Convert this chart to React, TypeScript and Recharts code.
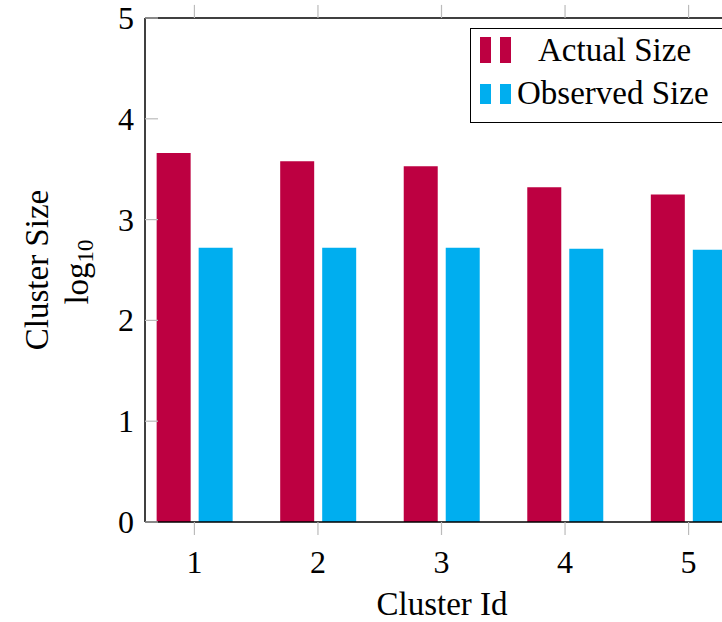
import React from 'react';
import { BarChart, Bar, XAxis, YAxis, ReferenceLine } from 'recharts';

// cluster ids and log10 sizes
const clusterIds = [1, 2, 3, 4, 5];
const actualSize = [3.66, 3.58, 3.53, 3.32, 3.25];
const observedSize = [2.72, 2.72, 2.72, 2.71, 2.7];
const yTicks = [0, 1, 2, 3, 4, 5];

const RED = '#bd0041';
const BLUE = '#00aeef';
const FONT = '"Liberation Serif", "Times New Roman", serif';

const data = clusterIds.map((id, i) => ({
  id,
  actual: actualSize[i],
  observed: observedSize[i],
}));

const YTick = (props: any) => {
  const { x, y, payload } = props;
  return (
    <g>
      <line x1={x} y1={y} x2={x + 13} y2={y} stroke="#bbb" strokeWidth={1.2} />
      <text x={x - 11} y={y} textAnchor="end" dominantBaseline="central" fontSize={32} fontFamily={FONT} fill="#000">
        {payload.value}
      </text>
    </g>
  );
};

const BottomTick = (props: any) => {
  const { x, y, payload } = props;
  return (
    <g>
      <line x1={x} y1={y} x2={x} y2={y + 13} stroke="#bbb" strokeWidth={1.2} />
      <text x={x} y={y + 40} textAnchor="middle" dominantBaseline="central" fontSize={32} fontFamily={FONT} fill="#000">
        {payload.value}
      </text>
    </g>
  );
};

const XLabel = () => (
  <text x={442} y={604} textAnchor="middle" dominantBaseline="central" fontSize={33} fontFamily={FONT} fill="#000">
    Cluster Id
  </text>
);

const YLabel = () => (
  <g>
    <text
      x={37}
      y={270}
      transform="rotate(-90 37 270)"
      textAnchor="middle"
      dominantBaseline="central"
      fontSize={33}
      fontFamily={FONT}
      fill="#000"
    >
      Cluster Size
    </text>
    <text
      x={77}
      y={272}
      transform="rotate(-90 77 272)"
      textAnchor="middle"
      dominantBaseline="central"
      fontSize={33}
      fontFamily={FONT}
      fill="#000"
    >
      log
      <tspan fontSize={23} dy={8}>10</tspan>
    </text>
  </g>
);

const LegendBox = () => (
  <div
    style={{
      position: 'absolute',
      left: 470,
      top: 28,
      width: 300,
      height: 95,
      border: '1.5px solid #000',
      background: '#fff',
      boxSizing: 'border-box',
      fontFamily: FONT,
      fontSize: 33,
      color: '#000',
    }}
  >
    <div style={{ position: 'absolute', left: 9, top: 8, width: 11, height: 26, background: RED }} />
    <div style={{ position: 'absolute', left: 29, top: 8, width: 11, height: 26, background: RED }} />
    <div style={{ position: 'absolute', left: 67, top: 2, lineHeight: '38px', whiteSpace: 'nowrap' }}>Actual Size</div>
    <div style={{ position: 'absolute', left: 9, top: 55, width: 11, height: 20, background: BLUE }} />
    <div style={{ position: 'absolute', left: 29, top: 55, width: 11, height: 20, background: BLUE }} />
    <div style={{ position: 'absolute', left: 46, top: 45, lineHeight: '38px', whiteSpace: 'nowrap' }}>Observed Size</div>
  </div>
);

export default function App() {
  return (
    <div style={{ position: 'fixed', left: 0, top: 0, width: 722, height: 622, overflow: 'hidden', background: '#fff' }}>
      <BarChart
        width={780}
        height={622}
        data={data}
        margin={{ top: 18, right: 42, left: 0, bottom: 0 }}
        barSize={34}
        barGap={8}
      >
        <XAxis
          dataKey="id"
          type="number"
          domain={[0.6, 5.4]}
          ticks={clusterIds}
          height={100}
          axisLine={{ stroke: '#000', strokeWidth: 1.5 }}
          tickLine={false}
          tickSize={0}
          tickMargin={0}
          tick={<BottomTick />}
          label={{ content: () => <XLabel /> }}
        />
        <YAxis
          type="number"
          domain={[0, 5]}
          ticks={yTicks}
          width={145}
          axisLine={{ stroke: '#000', strokeWidth: 1.5 }}
          tickLine={false}
          tickSize={0}
          tickMargin={0}
          tick={<YTick />}
          label={{ content: () => <YLabel /> }}
        />
        <ReferenceLine y={5} stroke="#000" strokeWidth={1.5} />
        {clusterIds.map((id) => (
          <ReferenceLine
            key={id}
            segment={[{ x: id, y: 5 }, { x: id, y: 5.13 }]}
            stroke="#bbb"
            strokeWidth={1.2}
            ifOverflow="visible"
          />
        ))}
        <Bar dataKey="actual" name="Actual Size" fill={RED} isAnimationActive={false} />
        <Bar dataKey="observed" name="Observed Size" fill={BLUE} isAnimationActive={false} />
      </BarChart>
      <LegendBox />
    </div>
  );
}
